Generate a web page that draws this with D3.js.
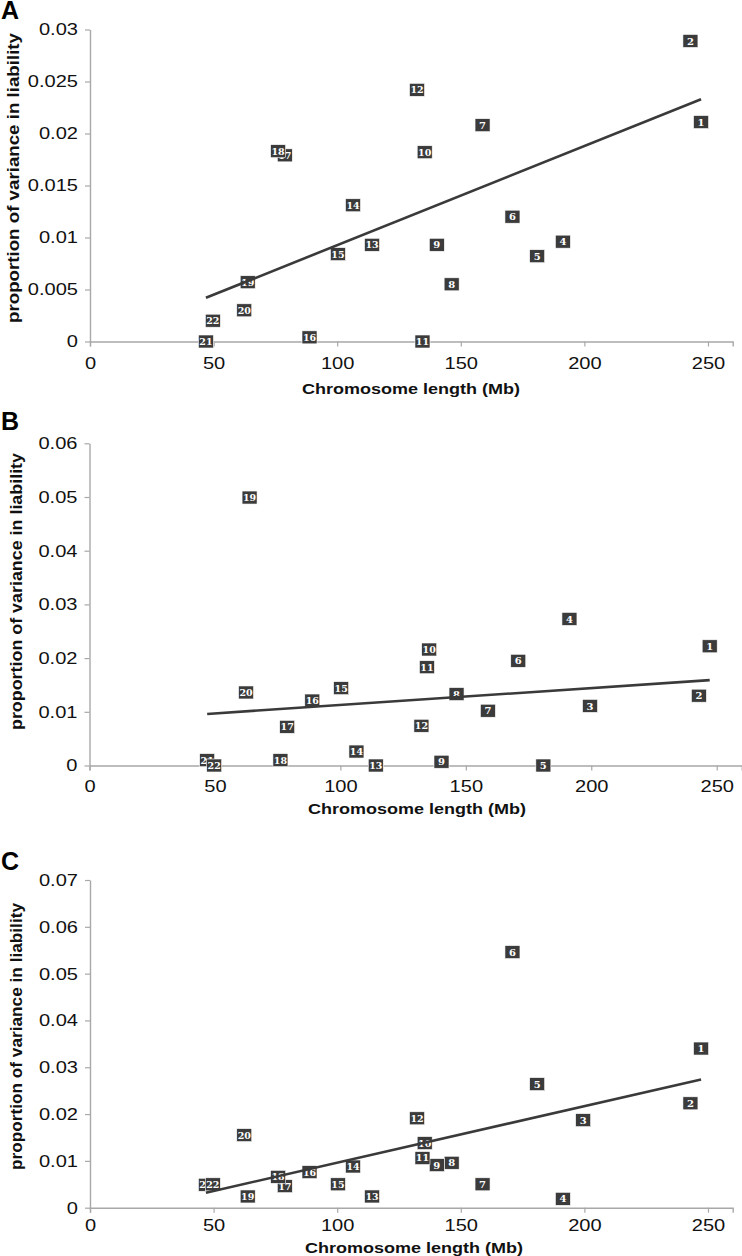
<!DOCTYPE html>
<html><head><meta charset="utf-8">
<script src="https://cdn.jsdelivr.net/npm/d3@7"></script>
<style>
html,body{margin:0;padding:0;background:#fff;}
svg{display:block;}
</style></head>
<body>
<svg id="chart" width="742" height="1256"></svg>
<script>
// ---- data ----
const chromosomes = [1,2,3,4,5,6,7,8,9,10,11,12,13,14,15,16,17,18,19,20,21,22];
const lengthsMb = [247.2,242.9,199.5,191.3,180.9,170.9,158.8,146.3,140.3,135.4,134.5,132.3,114.1,106.4,100.3,88.8,78.8,76.1,63.8,62.4,46.9,49.7];
const valuesA = [0.0211,0.0289,null,0.0096,0.0082,0.0120,0.0208,0.0055,0.0093,0.0182,0.0,0.0242,0.0093,0.0131,0.0084,0.0004,0.0179,0.0183,0.0057,0.0030,0.0,0.0020];
const valuesB = [0.0222,0.0130,0.0111,0.0273,0.0,0.0195,0.0102,0.0133,0.0007,0.0216,0.0183,0.0074,0.0,0.0026,0.0144,0.0121,0.0072,0.0010,0.0499,0.0136,0.0010,0.0];
const valuesC = [0.0340,0.0223,0.0187,0.0019,0.0264,0.0546,0.0050,0.0096,0.0091,0.0138,0.0106,0.0191,0.0024,0.0088,0.0050,0.0076,0.0046,0.0066,0.0024,0.0155,0.0049,0.0050];
const trendX = [46.9,247.2];
const trendA = [0.0042,0.0233];
const trendB = [0.0096,0.0159];
const trendC = [0.0032,0.0274];
const xTicks = [0,50,100,150,200,250];
const yTicksA = [0,0.005,0.01,0.015,0.02,0.025,0.03];
const yTickLabelsA = ["0","0.005","0.01","0.015","0.02","0.025","0.03"];
const yTicksB = [0,0.01,0.02,0.03,0.04,0.05,0.06];
const yTickLabelsB = ["0","0.01","0.02","0.03","0.04","0.05","0.06"];
const yTicksC = [0,0.01,0.02,0.03,0.04,0.05,0.06,0.07];
const yTickLabelsC = ["0","0.01","0.02","0.03","0.04","0.05","0.06","0.07"];
const xTitle = "Chromosome length (Mb)";
const yTitle = "proportion of variance in liability";

const svg = d3.select("#chart");
const sans = "'Liberation Sans', Arial, sans-serif";

function stretch(sel, k){
  sel.each(function(){
    const L = this.getComputedTextLength();
    d3.select(this).attr("textLength", L*k).attr("lengthAdjust","spacingAndGlyphs");
  });
}

function panel(cfg){
  const g = svg.append("g");
  const x = d3.scaleLinear().domain([0,260]).range([cfg.x0, cfg.x1]);
  const y = d3.scaleLinear().domain([0, cfg.yMax]).range([cfg.y0, cfg.y1]);

  // x axis
  const xa = g.append("g").attr("transform",`translate(0,${cfg.y0})`)
    .call(d3.axisBottom(x).tickValues(xTicks).tickSize(5).tickFormat(d3.format("d")));
  xa.select(".domain").attr("stroke","#a8a8a8").attr("stroke-width",1.4);
  xa.selectAll(".tick line").attr("stroke","#a8a8a8").attr("stroke-width",1.2);
  xa.selectAll(".tick text").attr("font-family",sans).attr("font-size",17)
    .attr("fill","#111").attr("dy",null).attr("y",cfg.xLabBase-cfg.y0);
  stretch(xa.selectAll(".tick text"), 1.18);
  // y axis
  const ya = g.append("g").attr("transform",`translate(${cfg.x0},0)`)
    .call(d3.axisLeft(y).tickValues(cfg.yTicks).tickSize(5).tickSizeOuter(0)
      .tickFormat((d,i)=>cfg.yLabels[i]));
  ya.select(".domain").attr("stroke","#a8a8a8").attr("stroke-width",1.4);
  ya.selectAll(".tick line").attr("stroke","#a8a8a8").attr("stroke-width",1.2);
  ya.selectAll(".tick text").attr("font-family",sans).attr("font-size",17)
    .attr("fill","#111").attr("x",-12);
  stretch(ya.selectAll(".tick text"), 1.18);

  // markers
  const pts = chromosomes.map((c,i)=>({c, x:lengthsMb[i], v:cfg.values[i]})).filter(d=>d.v!==null);
  const m = g.append("g").selectAll("g").data(pts).join("g")
    .attr("transform",d=>`translate(${x(d.x)},${y(d.v)})`);
  m.append("rect").attr("x",-7.5).attr("y",-6.5).attr("width",15).attr("height",13)
    .attr("fill","#3b3b3b").attr("stroke","#fff").attr("stroke-width",0.6);
  m.append("text").text(d=>d.c).attr("text-anchor","middle").attr("dy","0.36em")
    .attr("font-family","'DejaVu Serif','Liberation Serif',serif").attr("font-weight","bold")
    .attr("font-size",d=>d.c>=10?9.5:10).attr("fill","#fff");

  // trend line
  g.append("line").attr("x1",x(trendX[0])).attr("x2",x(trendX[1]))
    .attr("y1",y(cfg.trend[0])).attr("y2",y(cfg.trend[1]))
    .attr("stroke","#3a3a3a").attr("stroke-width",2.6);

  // titles
  g.append("text").text(xTitle).attr("x",cfg.xTitleX).attr("y",cfg.xTitleY)
    .attr("text-anchor","middle").attr("font-family",sans).attr("font-weight","bold")
    .attr("font-size",15).attr("textLength",218).attr("lengthAdjust","spacingAndGlyphs").attr("fill","#111");
  g.append("text").text(yTitle)
    .attr("transform",`translate(${cfg.yTitleX},${cfg.yTitleY}) rotate(-90)`)
    .attr("text-anchor","middle").attr("font-family",sans).attr("font-weight","bold")
    .attr("font-size",17).attr("textLength",cfg.yTitleLen).attr("lengthAdjust","spacingAndGlyphs").attr("fill","#111");
  g.append("text").text(cfg.letter).attr("x",1).attr("y",cfg.letterY)
    .attr("font-family",sans).attr("font-weight","bold").attr("font-size",25).attr("fill","#000");
}

panel({letter:"A", letterY:19, x0:90, x1:732.7, y0:341.5, y1:29.5, yMax:0.03,
  yTicks:yTicksA, yLabels:yTickLabelsA, values:valuesA, trend:trendA,
  xLabBase:369, xTitleX:411, xTitleY:394, yTitleX:19, yTitleY:178, yTitleLen:290});
panel({letter:"B", letterY:430, x0:89.5, x1:741.8, y0:765.5, y1:443.3, yMax:0.06,
  yTicks:yTicksB, yLabels:yTickLabelsB, values:valuesB, trend:trendB,
  xLabBase:792, xTitleX:417, xTitleY:814, yTitleX:22, yTitleY:591.5, yTitleLen:277});
panel({letter:"C", letterY:870, x0:90, x1:732.7, y0:1207.7, y1:880, yMax:0.07,
  yTicks:yTicksC, yLabels:yTickLabelsC, values:valuesC, trend:trendC,
  xLabBase:1231, xTitleX:414, xTitleY:1253, yTitleX:22, yTitleY:1036.5, yTitleLen:267});
</script>
</body></html>
